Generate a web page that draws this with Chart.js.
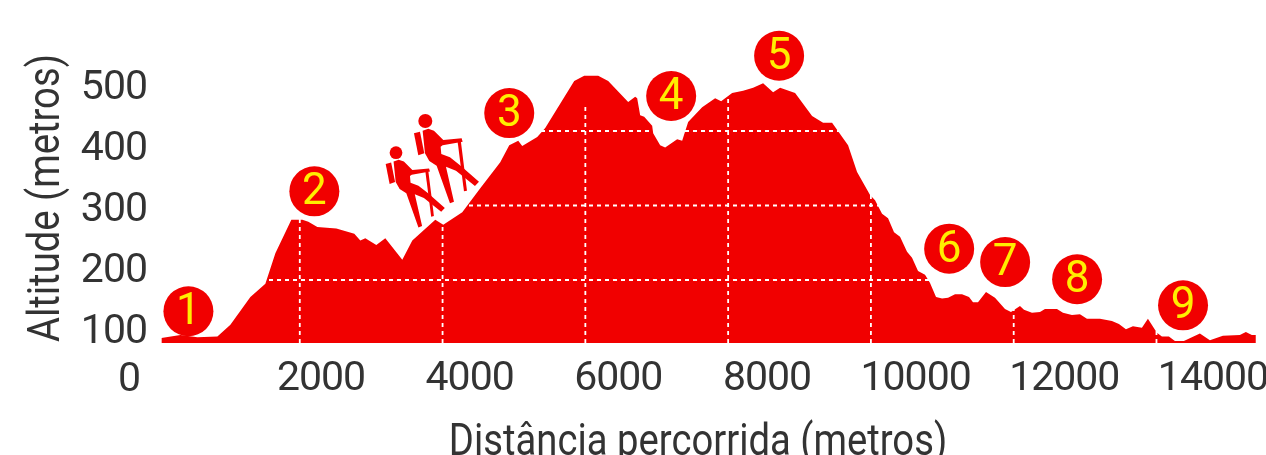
<!DOCTYPE html>
<html lang="pt">
<head>
<meta charset="utf-8">
<title>Perfil altimétrico</title>
<script src="https://cdn.jsdelivr.net/npm/chart.js@4"></script>
<style>
    html, body { margin: 0; padding: 0; background: #fff; overflow: hidden; }
    canvas { display: block; }
</style>
</head>
<body>
<canvas id="perfil" width="1266" height="455"></canvas>
<script>
/*
    ========================
      DADOS DO PERFIL
    ========================
*/
let distancia = [62, 328, 566, 846, 1028, 1308, 1518, 1658, 1882, 2036, 2120, 2246, 2512, 2764, 2848, 2918, 3072, 3198, 3436, 3576, 3898, 4010, 4276, 4528, 4808, 4934, 5060, 5116, 5326, 5438, 5844, 5984, 6180, 6320, 6600, 6698, 6726, 6768, 6824, 6936, 6950, 7048, 7118, 7286, 7356, 7440, 7636, 7818, 7902, 8056, 8210, 8350, 8490, 8630, 8728, 8938, 9176, 9330, 9456, 9680, 9806, 9988, 10058, 10156, 10240, 10324, 10408, 10506, 10576, 10660, 10758, 10828, 10912, 10996, 11080, 11178, 11276, 11374, 11430, 11500, 11612, 11738, 11878, 11962, 12088, 12144, 12256, 12368, 12438, 12606, 12690, 12816, 12928, 13026, 13208, 13376, 13474, 13572, 13670, 13796, 13880, 14006, 14076, 14174, 14258, 14384, 14608, 14748, 14930, 15168, 15252, 15336, 15392];
let altitude = [122, 126, 123, 124, 140, 177, 195, 236, 281, 281, 278, 271, 269, 262, 253, 256, 247, 256, 227, 253, 281, 274, 291, 323, 358, 381, 387, 380, 392, 404, 467, 474, 474, 467, 439, 446, 444, 421, 419, 407, 397, 381, 378, 389, 387, 412, 432, 444, 440, 451, 454, 458, 464, 452, 458, 451, 420, 411, 411, 381, 345, 314, 307, 289, 283, 264, 258, 238, 230, 212, 207, 196, 177, 175, 176, 181, 181, 177, 170, 170, 184, 176, 161, 157, 165, 160, 156, 157, 161, 161, 156, 153, 154, 148, 148, 145, 141, 134, 138, 136, 148, 129, 124, 124, 118, 118, 128, 119, 125, 126, 130, 126, 126];

// pontos numerados do percurso
let pontoRotulo = ['1', '2', '3', '4', '5', '6', '7', '8', '9'];
let pontoDist = [440, 2204, 4934, 7202, 8714, 11096, 11880, 12888, 14372];
let pontoAlt = [158, 319, 424, 447, 501, 242, 224, 201, 166];

// marcas dos eixos
let xMarcas = [2000, 4000, 6000, 8000, 10000, 12000, 14000];
let yMarcas = [100, 200, 300, 400, 500];

// linhas de referência
let gradeX = [2000, 4000, 6000, 8000, 10000, 12000, 14000];
let gradeXTopo = [504, 504, 436, 504, 504, 504, 504];
let gradeY = [200, 300, 400];

const VERMELHO = '#f10000';
const AMARELO = '#ffee00';
const CINZA = '#333333';
const FONTE = 'Roboto';

/*
    ========================
      LINHAS DA GRADE
    ========================
*/
let baseY = 115.4;
let xMax = 15520;
let linhasGrade = [];
gradeX.forEach(function (v, i) {
    linhasGrade.push({x: v, y: baseY}, {x: v, y: gradeXTopo[i]}, {x: v, y: NaN});
});
gradeY.forEach(function (v) {
    linhasGrade.push({x: 0, y: v}, {x: xMax, y: v}, {x: xMax, y: NaN});
});

/*
    ========================
      CAMINHANTES
    ========================
*/
let corpo = new Path2D('M158 92L175 86L192 92L220 120L275 115L278 125L218 136L212 140L214 162L240 172L272 197L327 245L315 258L258 212L228 200L252 305L240 310L200 197L178 183L165 160Z');
let mochila = new Path2D('M132 100L150 95L163 160L145 166Z');
let bastao = new Path2D('M262 118L272 118L291 272L282 274Z');

function caminhante(ctx, cabecaX, cabecaY, escala) {
    ctx.save();
    ctx.translate(cabecaX, cabecaY);
    ctx.scale(escala / 3, escala / 3);
    ctx.translate(-166, -63);
    ctx.fillStyle = VERMELHO;
    ctx.beginPath();
    ctx.arc(166, 63, 21, 0, Math.PI * 2);
    ctx.fill();
    ctx.fill(corpo);
    ctx.fill(mochila);
    ctx.fill(bastao);
    ctx.restore();
}

// título com a letra apertada, a fonte original é mais estreita
function titulo(ctx, texto, x, y, giro) {
    ctx.save();
    ctx.translate(x, y);
    ctx.rotate(giro);
    ctx.scale(0.85, 1);
    ctx.font = '45px ' + FONTE;
    ctx.fillStyle = CINZA;
    ctx.textAlign = 'center';
    ctx.textBaseline = 'alphabetic';
    ctx.fillText(texto, 0, 0);
    ctx.restore();
}

let extras = {
    id: 'extras',
    beforeDraw: function (chart) {
        // números dos eixos um pouco mais juntos
        chart.ctx.letterSpacing = '-1px';
    },
    afterDraw: function (chart) {
        let ctx = chart.ctx;
        let meta = chart.getDatasetMeta(0);
        ctx.letterSpacing = '0px';

        ctx.save();
        // números dentro dos círculos
        ctx.font = '400 44px ' + FONTE;
        ctx.fillStyle = AMARELO;
        ctx.textAlign = 'center';
        ctx.textBaseline = 'middle';
        meta.data.forEach(function (p, i) {
            ctx.fillText(pontoRotulo[i], p.x, p.y + 2);
        });

        // o zero fica fora do lugar do eixo
        ctx.fillStyle = CINZA;
        ctx.font = '41px ' + FONTE;
        ctx.fillText('0', 129.5, 381);
        ctx.restore();

        titulo(ctx, 'Altitude (metros)', 59, 198, -Math.PI / 2);
        titulo(ctx, 'Distância percorrida (metros)', 698, 455, 0);

        caminhante(ctx, 425.3, 121, 1);
        caminhante(ctx, 396, 152.7, 0.91);
    }
};

/*
    ========================
      GRÁFICO
    ========================
*/
let ctxPerfil = document.getElementById('perfil');

new Chart(ctxPerfil, {
    type: 'line',
    data: {
        datasets: [
            {
                type: 'scatter',
                data: pontoDist.map(function (v, i) { return {x: v, y: pontoAlt[i]}; }),
                backgroundColor: VERMELHO,
                borderWidth: 0,
                pointRadius: 25,
                clip: false,
                order: 0,
            },
            {
                data: linhasGrade,
                borderColor: '#ffffff',
                borderWidth: 1.8,
                borderDash: [4, 4],
                pointRadius: 0,
                spanGaps: false,
                fill: false,
                order: 1,
            },
            {
                data: distancia.map(function (v, i) { return {x: v, y: altitude[i]}; }),
                backgroundColor: VERMELHO,
                borderWidth: 0,
                pointRadius: 0,
                tension: 0,
                fill: 'start',
                order: 2,
            },
        ]
    },
    plugins: [extras],
    options: {
        responsive: false,
        animation: false,
        layout: { autoPadding: false, padding: { top: 53, right: 1, left: 0, bottom: 0 } },
        plugins: { legend: false, tooltip: { enabled: false } },
        scales: {
            // escalas dos dados (desenho)
            x: { type: 'linear', display: false, min: 0, max: xMax },
            y: { type: 'linear', display: false, min: baseY, max: 504.7 },
            // escalas só dos rótulos, com passo diferente da grade
            xRotulos: {
                type: 'linear',
                position: 'bottom',
                min: -206,
                max: 14700,
                grid: { display: false, drawTicks: false },
                border: { display: false },
                afterBuildTicks: function (s) { s.ticks = xMarcas.map(function (v) { return {value: v}; }); },
                afterFit: function (s) {
                    s.height = 112;
                    s.paddingLeft = 0;
                    s.paddingRight = 0;
                },
                ticks: {
                    autoSkip: false,
                    maxRotation: 0,
                    padding: 12,
                    color: CINZA,
                    font: { family: FONTE, size: 41 },
                    callback: function (v) { return String(v); },
                },
            },
            yRotulos: {
                type: 'linear',
                position: 'left',
                min: 83.6,
                max: 559,
                grid: { display: false, drawTicks: false },
                border: { display: false },
                afterBuildTicks: function (s) { s.ticks = yMarcas.map(function (v) { return {value: v}; }); },
                afterFit: function (s) {
                    s.width = 157;
                    s.paddingTop = 0;
                    s.paddingBottom = 0;
                },
                ticks: {
                    autoSkip: false,
                    padding: 10,
                    color: CINZA,
                    font: { family: FONTE, size: 41 },
                    callback: function (v) { return String(v); },
                },
            },
        }
    }
});
</script>
</body>
</html>
